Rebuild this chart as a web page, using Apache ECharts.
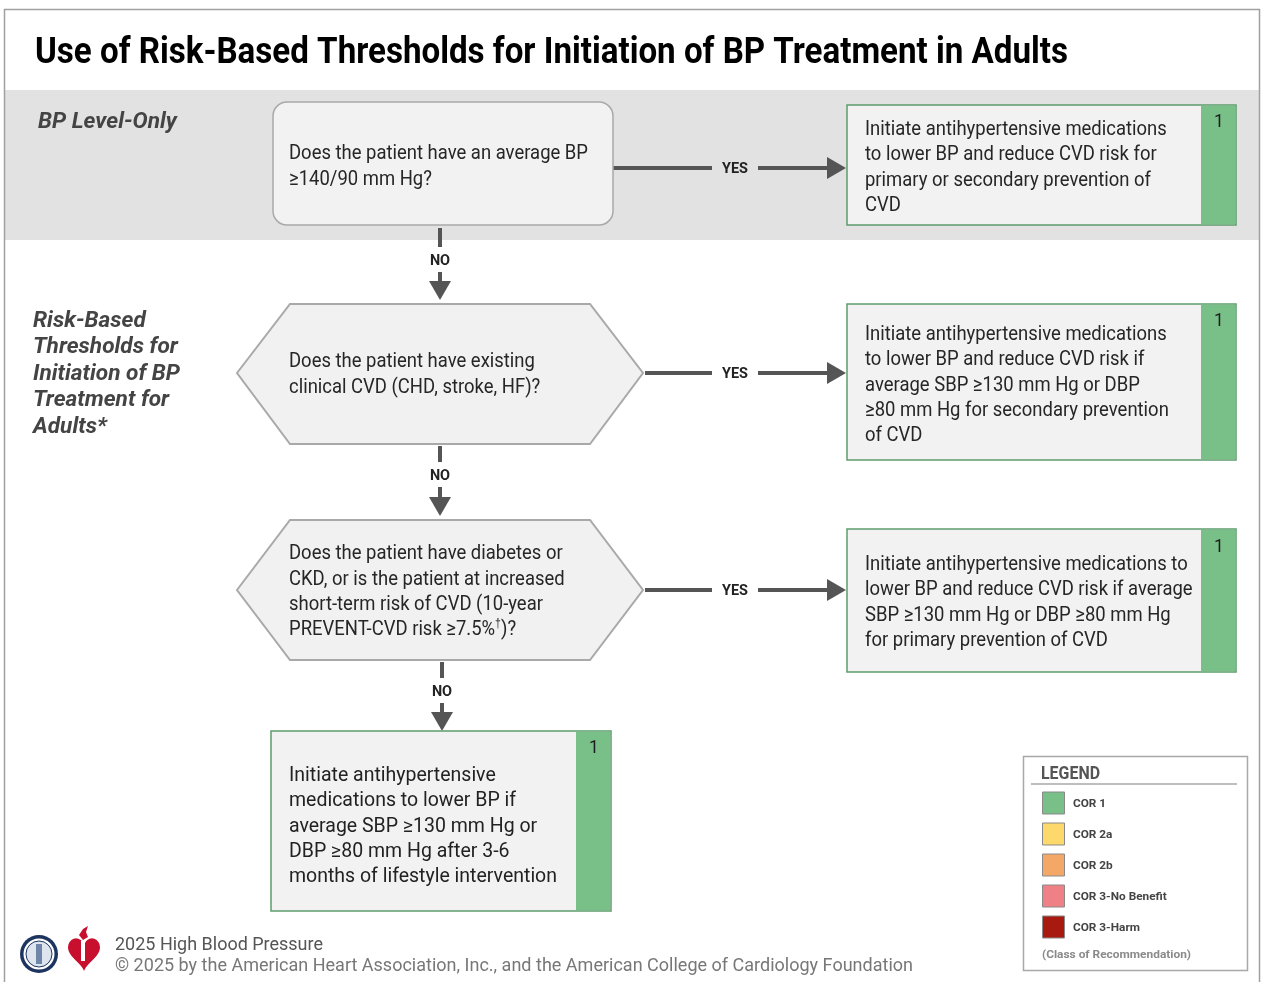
<!DOCTYPE html>
<html>
<head>
<meta charset="utf-8">
<title>Risk-Based Thresholds for BP Treatment</title>
<script src="https://cdn.jsdelivr.net/npm/echarts@6/dist/echarts.min.js"></script>
<style>
  html, body { margin: 0; padding: 0; background: #fff; }
  #main { width: 1261px; height: 982px; }
</style>
</head>
<body>
<div id="main"></div>
<script>
// flowchart content
var chartTitle = 'Use of Risk-Based Thresholds for Initiation of BP Treatment in Adults';
var sectionLabels = ['BP Level-Only', 'Risk-Based\nThresholds for\nInitiation of BP\nTreatment for\nAdults*'];
var questions = [
    'Does the patient have an average BP\n≥140/90 mm Hg?',
    'Does the patient have existing\nclinical CVD (CHD, stroke, HF)?',
    'Does the patient have diabetes or\nCKD, or is the patient at increased\nshort-term risk of CVD (10-year\nPREVENT-CVD risk ≥7.5%{sup|†})?'
];
var actions = [
    'Initiate antihypertensive medications\nto lower BP and reduce CVD risk for\nprimary or secondary prevention of\nCVD',
    'Initiate antihypertensive medications\nto lower BP and reduce CVD risk if\naverage SBP ≥130 mm Hg or DBP\n≥80 mm Hg for secondary prevention\nof CVD',
    'Initiate antihypertensive medications to\nlower BP and reduce CVD risk if average\nSBP ≥130 mm Hg or DBP ≥80 mm Hg\nfor primary prevention of CVD',
    'Initiate antihypertensive\nmedications to lower BP if\naverage SBP ≥130 mm Hg or\nDBP ≥80 mm Hg after 3-6\nmonths of lifestyle intervention'
];
var actionCor = ['1', '1', '1', '1'];
var branchLabels = ['YES', 'NO'];
var corLabels = ['COR 1', 'COR 2a', 'COR 2b', 'COR 3-No Benefit', 'COR 3-Harm'];
var corColors = ['#79bf88', '#fdd86a', '#f4a868', '#ef8085', '#a8190f'];
var legendTitle = 'LEGEND';
var legendNote = '(Class of Recommendation)';
var footerLines = ['2025 High Blood Pressure', '© 2025 by the American Heart Association, Inc., and the American College of Cardiology Foundation'];

// measure text so Roboto can be squeezed to the condensed look
var cv = document.createElement('canvas').getContext('2d');
function fit(s, font, target) {
    cv.font = font;
    return target / cv.measureText(s).width;
}
var FF = 'Roboto, "Noto Sans", sans-serif';
var bodyScale = fit('Does the patient have an average BP', '21px ' + FF, 299);
var plainScale = fit('months of lifestyle intervention', '20px ' + FF, 268);
var titleScale = fit(chartTitle, 'bold 37px ' + FF, 1033);
var sideScale = fit('Initiation of BP', 'italic bold 22px ' + FF, 147);
var yesScale = fit('YES', 'bold 14px ' + FF, 26);

function txt(x, y, s, size, o) {
    o = o || {};
    return {
        type: 'text', x: x, y: y, scaleX: o.sx || 1, z: 20,
        style: {
            text: s, x: 0, y: 0,
            fontFamily: FF, fontSize: size,
            fontWeight: o.w || 'normal', fontStyle: o.it || 'normal',
            fill: o.c || '#262626', lineHeight: o.lh || size * 1.2,
            align: o.al || 'left', verticalAlign: o.va || 'top',
            rich: { sup: { fontSize: 12, verticalAlign: 'top', lineHeight: 14, fill: o.c || '#262626' } }
        }
    };
}

var LINE = '#555555';
var els = [];

// frame + grey band
els.push({ type: 'rect', shape: { x: 5, y: 90, width: 1255, height: 150 }, style: { fill: '#e2e2e3' }, z: 0 });
els.push({ type: 'rect', shape: { x: 4.5, y: 9.5, width: 1255, height: 990 }, style: { fill: 'none', stroke: '#a0a0a0', lineWidth: 1.5 }, z: 1 });

els.push(txt(35, 54, chartTitle, 37, { w: 'bold', c: '#000', sx: titleScale, va: 'middle' }));

els.push(txt(38, 109, sectionLabels[0], 22, { w: 'bold', it: 'italic', c: '#444', sx: sideScale }));
els.push(txt(33, 308, sectionLabels[1], 22, { w: 'bold', it: 'italic', c: '#444', sx: sideScale, lh: 26.5 }));

// question shapes
var qShapes = [
    { kind: 'box', x: 273, y: 102, w: 340, h: 123, cy: 168, ty: 141.5 },
    { kind: 'hex', x: 237, y: 304, w: 406, h: 140, cy: 373, ty: 349.5 },
    { kind: 'hex', x: 237, y: 520, w: 406, h: 140, cy: 590, ty: 541.5 }
];
// action boxes
var aShapes = [
    { x: 847, y: 105, w: 389, h: 120, ty: 117.5, ny: 123 },
    { x: 847, y: 304, w: 389, h: 156, ty: 322.5, ny: 322 },
    { x: 847, y: 529, w: 389, h: 143, ty: 552.5, ny: 548 },
    { x: 271, y: 731, w: 340, h: 180, ty: 763.5, ny: 749, plain: true }
];

qShapes.forEach(function (q, i) {
    if (q.kind === 'box') {
        els.push({ type: 'rect', shape: { x: q.x, y: q.y, width: q.w, height: q.h, r: 14 },
            style: { fill: '#f2f2f2', stroke: '#a9a9a9', lineWidth: 1.5 }, z: 5 });
    } else {
        var m = 53;
        els.push({ type: 'polygon', shape: { points: [
            [q.x, q.cy], [q.x + m, q.y], [q.x + q.w - m, q.y], [q.x + q.w, q.cy],
            [q.x + q.w - m, q.y + q.h], [q.x + m, q.y + q.h]] },
            style: { fill: '#f1f1f1', stroke: '#a9a9a9', lineWidth: 2 }, z: 5 });
    }
    els.push(txt(289, q.ty, questions[i], 21, { sx: bodyScale, lh: 25.3 }));

    // YES arrow
    var x0 = q.x + q.w + (q.kind === 'box' ? 0 : 2);
    els.push({ type: 'line', shape: { x1: x0, y1: q.cy, x2: 712, y2: q.cy }, style: { stroke: LINE, lineWidth: 4 }, z: 4 });
    els.push({ type: 'line', shape: { x1: 758, y1: q.cy, x2: 830, y2: q.cy }, style: { stroke: LINE, lineWidth: 4 }, z: 4 });
    els.push({ type: 'polygon', shape: { points: [[827, q.cy - 11], [846, q.cy], [827, q.cy + 11]] }, style: { fill: LINE }, z: 4 });
    els.push(txt(735, q.cy + 1, branchLabels[0], 14, { w: 'bold', c: '#222', sx: yesScale, al: 'center', va: 'middle' }));
});

// NO arrows
var noArrows = [
    { x: 440, y1: 228, y2: 300, ly: 260 },
    { x: 440, y1: 446, y2: 516, ly: 475 },
    { x: 442, y1: 662, y2: 731, ly: 691 }
];
noArrows.forEach(function (a) {
    els.push({ type: 'line', shape: { x1: a.x, y1: a.y1, x2: a.x, y2: a.ly - 13 }, style: { stroke: LINE, lineWidth: 4 }, z: 4 });
    els.push({ type: 'line', shape: { x1: a.x, y1: a.ly + 12, x2: a.x, y2: a.y2 - 15 }, style: { stroke: LINE, lineWidth: 4 }, z: 4 });
    els.push({ type: 'polygon', shape: { points: [[a.x - 11, a.y2 - 19], [a.x + 11, a.y2 - 19], [a.x, a.y2]] }, style: { fill: LINE }, z: 4 });
    els.push(txt(a.x, a.ly + 1, branchLabels[1], 14, { w: 'bold', c: '#222', sx: yesScale, al: 'center', va: 'middle' }));
});

aShapes.forEach(function (b, i) {
    els.push({ type: 'rect', shape: { x: b.x, y: b.y, width: b.w, height: b.h },
        style: { fill: '#f2f2f2', stroke: '#5d9c6c', lineWidth: 1.5 }, z: 5 });
    els.push({ type: 'rect', shape: { x: b.x + b.w - 35, y: b.y + 0.75, width: 34.25, height: b.h - 1.5 },
        style: { fill: corColors[0] }, z: 6 });
    els.push(txt(b.x + b.w - 17, b.ny, actionCor[i], 17.5, { c: '#1e1e1e', al: 'center', va: 'middle' }));
    if (b.plain) {
        els.push(txt(289, b.ty, actions[i], 20, { sx: plainScale, lh: 25.3, c: '#222' }));
    } else {
        els.push(txt(865, b.ty, actions[i], 21, { sx: bodyScale, lh: 25.1 }));
    }
});

// legend
els.push({ type: 'rect', shape: { x: 1023.5, y: 756.5, width: 224, height: 214 }, style: { fill: '#fff', stroke: '#a8a8a8', lineWidth: 1.5 }, z: 5 });
els.push(txt(1041, 774, legendTitle, 19, { w: 'bold', c: '#555', sx: fit(legendTitle, 'bold 19px ' + FF, 59), va: 'middle' }));
els.push({ type: 'line', shape: { x1: 1031, y1: 784, x2: 1237, y2: 784 }, style: { stroke: '#a8a8a8', lineWidth: 1.5 }, z: 6 });
corLabels.forEach(function (lab, i) {
    var cy = 803 + i * 31;
    els.push({ type: 'rect', shape: { x: 1042.5, y: cy - 11, width: 22, height: 22 }, style: { fill: corColors[i], stroke: '#8a8a8a', lineWidth: 1 }, z: 6 });
    els.push(txt(1073, cy + 1, lab, 11.8, { w: 'bold', c: '#444', va: 'middle' }));
});
els.push(txt(1042, 955, legendNote, 11.5, { w: 'bold', c: '#8a8a8a', va: 'middle', sx: fit(legendNote, 'bold 11.5px ' + FF, 149) }));

// footer
els.push(txt(115, 945.5, footerLines[0], 17.5, { c: '#555', va: 'middle', sx: fit(footerLines[0], '17.5px ' + FF, 208) }));
els.push(txt(115, 966.5, footerLines[1], 17.5, { c: '#777', va: 'middle', sx: fit(footerLines[1], '17.5px ' + FF, 798) }));

// logos (rough)
els.push({ type: 'circle', shape: { cx: 39, cy: 954, r: 19 }, style: { fill: '#1d3461' }, z: 6 });
els.push({ type: 'circle', shape: { cx: 39, cy: 954, r: 15.5 }, style: { fill: '#fff' }, z: 7 });
els.push({ type: 'circle', shape: { cx: 39, cy: 954, r: 13 }, style: { fill: '#dfe5ee', stroke: '#1d3461', lineWidth: 1 }, z: 8 });
els.push({ type: 'rect', shape: { x: 36, y: 944, width: 6, height: 20 }, style: { fill: '#6f86a8' }, z: 9 });
var heart = [];
for (var k = 0; k < 48; k++) {
    var t = k / 48 * Math.PI * 2;
    var hx = 16 * Math.pow(Math.sin(t), 3);
    var hy = 13 * Math.cos(t) - 5 * Math.cos(2 * t) - 2 * Math.cos(3 * t) - Math.cos(4 * t);
    heart.push([84 + hx * 1.0, 952 - hy * 1.15]);
}
els.push({ type: 'polygon', shape: { points: heart }, style: { fill: '#c8102e' }, z: 6 });
els.push({ type: 'polygon', shape: { points: [[83, 940], [79, 935], [83, 929], [88, 926], [86, 932], [88, 937]] }, style: { fill: '#c8102e' }, z: 6 });
els.push({ type: 'rect', shape: { x: 81, y: 941, width: 4, height: 20 }, style: { fill: '#fff' }, z: 7 });

var chart = echarts.init(document.getElementById('main'), null, { renderer: 'canvas' });
chart.setOption({
    backgroundColor: '#fff',
    animation: false,
    graphic: { elements: els }
});
</script>
</body>
</html>
